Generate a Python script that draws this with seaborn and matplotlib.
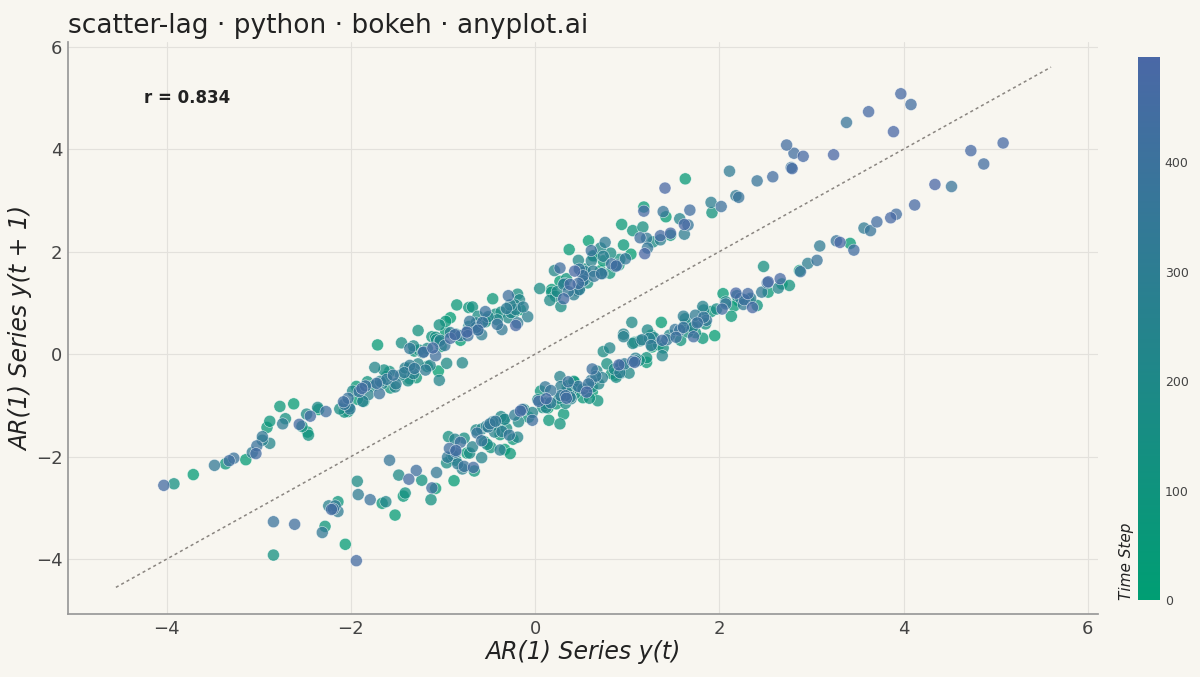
import numpy as np
import pandas as pd
import matplotlib
matplotlib.use("Agg")
import matplotlib.pyplot as plt
import seaborn as sns
from matplotlib.colors import LinearSegmentedColormap, Normalize

series = [
0.35,-0.62,0.48,1.27,0.14,-1.05,-0.33,-1.86,-0.92,0.71,1.63,0.58,2.21,1.04,1.95,0.36,-0.81,0.27,1.42,2.68,1.37,0.62,-0.74,-1.93,-0.88,-2.47,-1.52,-3.14,-2.06,-3.71,-2.35,-1.08,-2.62,-0.97,0.43,-0.55,-1.71,0.18,1.26,0.37,2.04,1.18,2.87,1.63,3.42,2.16,0.94,2.53,1.21,-0.16,
0.87,-0.41,-1.38,-0.27,-1.94,-0.63,0.52,-0.85,0.96,2.13,0.74,1.82,0.31,-1.17,-0.24,-1.66,-2.91,-1.43,-2.77,-1.02,0.15,-1.29,-0.46,1.08,0.23,-0.97,0.64,1.91,0.83,-0.38,-1.57,-0.66,-2.28,-3.36,-2.14,-2.88,-1.31,0.06,-0.72,0.91,1.74,0.42,-0.53,0.68,-0.91,-2.03,-1.12,0.34,1.47,2.32,
1.06,2.41,0.95,-0.23,0.81,1.58,0.27,-1.36,-0.48,-1.82,-0.54,0.63,1.92,2.76,1.34,0.18,1.21,-0.07,-1.23,-2.46,-1.58,-0.34,-1.27,0.46,-0.68,0.92,1.85,0.59,-0.86,-2.07,-1.13,-2.84,-3.92,-2.53,-1.41,-2.71,-1.26,0.08,-1.04,0.57,1.39,0.12,-0.94,-1.61,-0.43,0.78,-0.19,1.17,2.48,1.71,
0.54,1.66,0.43,-0.77,-1.64,-0.31,-1.45,0.22,1.13,-0.12,-1.08,0.33,-0.96,-2.12,-1.07,0.28,0.93,-0.37,0.82,1.97,0.88,-0.45,-1.38,-0.52,-1.76,-0.62,0.74,0.05,1.28,2.19,1.14,0.26,-0.86,0.39,-0.71,-1.93,-2.48,-1.17,0.11,-0.96,-0.18,-1.32,0.16,1.05,0.62,-0.64,-1.48,-2.36,-1.04,0.24,
1.22,0.47,1.83,0.86,-0.29,0.71,2.07,1.02,-0.37,-1.22,0.03,-0.89,-1.98,-0.72,0.54,1.46,0.37,-0.79,-0.17,1.06,0.21,1.63,0.69,-0.58,-1.46,-0.41,0.67,-0.33,-1.27,-0.19,-1.62,-2.88,-1.74,-0.26,0.81,0.12,-1.04,-0.51,0.73,1.57,2.64,1.29,0.32,1.38,-0.03,-1.14,-0.22,0.96,0.39,-0.87,
-1.66,-0.58,-2.02,-1.03,0.27,-0.44,-1.52,-0.64,0.61,1.82,0.93,-0.21,0.87,1.71,0.52,-0.68,-1.81,-0.79,-2.24,-2.96,-1.68,-0.53,-1.41,-0.27,0.96,0.34,-0.73,0.46,1.24,0.31,1.36,2.23,1.09,-0.08,0.73,-0.46,-1.32,-0.38,-1.87,-0.92,0.42,1.16,0.28,-0.63,0.54,1.61,0.74,1.91,2.96,1.77,
0.63,1.62,2.34,1.09,-0.13,0.92,-0.36,-1.51,-0.58,0.38,-0.84,-2.14,-3.07,-1.92,-2.74,-1.36,-0.22,-1.19,-0.31,0.89,1.74,0.76,2.18,3.09,2.11,3.57,2.46,1.21,2.26,0.97,-0.19,0.61,-0.51,-1.42,-0.36,0.48,1.26,0.17,-0.95,-2.01,-1.07,-2.31,-3.48,-2.17,-2.96,-1.61,-0.49,-1.36,0.11,-0.64,
0.52,1.43,0.28,-0.81,0.36,1.22,2.07,0.98,1.86,0.66,-0.43,-1.31,-0.28,-1.58,-2.07,-0.98,0.17,-0.71,0.64,1.52,0.48,1.66,2.52,1.39,2.78,3.64,2.41,3.38,4.52,3.27,2.21,3.06,1.83,0.72,1.57,0.47,-0.63,-1.54,-0.41,0.58,-0.58,-1.69,-0.77,-2.19,-3.02,-1.79,-2.84,-3.27,-2.03,-0.86,
-1.91,-0.73,0.36,-0.54,0.83,1.76,0.61,2.02,2.88,1.61,0.52,1.53,0.33,-0.81,-1.72,-0.57,0.62,-0.29,1.14,2.27,1.06,-0.14,-1.08,-0.03,-1.29,-2.27,-1.12,-2.61,-3.32,-2.08,-0.93,-1.84,-0.62,0.47,1.38,0.27,1.68,2.81,3.92,2.73,4.08,4.87,3.71,2.58,3.46,2.03,0.88,1.72,0.34,-0.86,
-1.88,-0.67,-2.21,-3.03,-1.94,-4.03,-2.56,-1.37,-2.44,-1.21,0.04,-0.92,0.31,1.08,-0.16,-1.11,0.12,-0.87,0.38,1.36,2.31,1.18,2.79,3.62,4.73,3.97,5.08,4.12,2.91,3.86,2.66,1.47,2.36,0.91,-0.21,0.56,-0.74,0.43,1.62,2.53,1.41,3.24,3.89,4.34,3.31,2.18,1.19,1.96,
]
r_label = "r = 0.834"
colorbar_ticks = [0, 100, 200, 300, 400]

y = np.array(series)
df = pd.DataFrame({"yt": y[:-1], "yt1": y[1:], "t": np.arange(len(y) - 1)})

bg = "#F8F6F0"
sns.set_theme(style="whitegrid")
plt.rcParams["font.family"] = ["DejaVu Sans"]
cmap = LinearSegmentedColormap.from_list("ts", ["#009E73", "#4A68A6"])
norm = Normalize(0, df["t"].max())

fig = plt.figure(figsize=(12, 6.77), dpi=100, facecolor=bg)
ax = fig.add_axes([68/1200, 1-614/677, 1030/1200, 572/677])
ax.set_facecolor(bg)
sns.scatterplot(data=df, x="yt", y="yt1", hue="t", palette=cmap, hue_norm=norm,
                s=75, alpha=0.75, edgecolor="white", linewidth=0.4, legend=False, ax=ax)
ax.plot([-4.55, 5.6], [-4.55, 5.6], ls=(0, (2, 2)), color="#8a8580", lw=1.1)
ax.set_xlim(-5.07, 6.11)
ax.set_ylim(-5.07, 6.09)
ax.set_xticks([-4, -2, 0, 2, 4, 6])
ax.set_yticks([-4, -2, 0, 2, 4, 6])
ax.set_xticklabels(["\u22124", "\u22122", "0", "2", "4", "6"])
ax.set_yticklabels(["\u22124", "\u22122", "0", "2", "4", "6"])
ax.tick_params(labelsize=13, colors="#444444", length=0, pad=4)
ax.grid(color="#e3e1dc", lw=0.8)
for s in ["top", "right"]:
    ax.spines[s].set_visible(False)
for s in ["left", "bottom"]:
    ax.spines[s].set_color("#999999")
ax.set_xlabel("AR(1) Series y(t)", fontsize=17, style="italic", color="#222222", labelpad=2)
ax.set_ylabel("AR(1) Series y(t + 1)", fontsize=17, style="italic", color="#222222", labelpad=2)
ax.text(-4.25, 5.0, r_label, fontsize=12, fontweight="bold", color="#222222", va="center")
fig.text(68/1200, 1-26/677, "scatter-lag \u00b7 python \u00b7 bokeh \u00b7 anyplot.ai",
         fontsize=19, color="#222222", va="center")

cax = fig.add_axes([1138/1200, 1-600/677, 22/1200, 543/677])
sm = matplotlib.cm.ScalarMappable(norm=norm, cmap=cmap)
cb = fig.colorbar(sm, cax=cax)
cb.outline.set_visible(False)
cb.set_ticks(colorbar_ticks)
cax.tick_params(labelsize=9, colors="#444444", length=0)
cax.text(-0.5, 0.0, "Time Step", rotation=90, transform=cax.transAxes,
         fontsize=11, style="italic", ha="center", va="bottom", color="#222222")
fig.savefig("out.png", dpi=100, facecolor=bg)
